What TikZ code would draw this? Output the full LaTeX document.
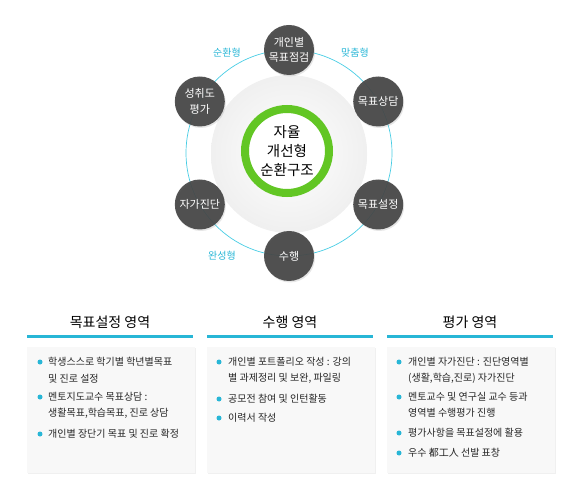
\documentclass[tikz,border=0pt]{standalone}
\usepackage{fontspec}
\setmainfont{Noto Sans CJK KR}
\usepackage{xcolor}
\usetikzlibrary{calc,shadows}
\definecolor{CianoAnillo}{RGB}{72,205,228}
\definecolor{CianoTexto}{RGB}{40,182,214}
\definecolor{GrisNodo}{RGB}{70,70,70}
\definecolor{VerdeNucleo}{RGB}{98,198,36}
\definecolor{GrisCaja}{RGB}{248,248,248}

\begin{document}
\begin{tikzpicture}[x=1pt,y=1pt,
  ciclo/.style={circle,fill=GrisNodo,fill opacity=0.93,text opacity=1,text=white,
    minimum size=50pt,inner sep=0pt,align=center,font=\fontsize{11}{15.5}\selectfont,
    drop shadow={opacity=0.2,shadow xshift=1pt,shadow yshift=-1.5pt}},
  tipo/.style={text=CianoTexto,font=\fontsize{10}{11}\selectfont},
  titulo/.style={font=\fontsize{14}{15}\selectfont},
  caja/.style={fill=GrisCaja,minimum width=168pt,minimum height=126pt,inner sep=0pt,
    drop shadow={opacity=0.12,shadow xshift=1pt,shadow yshift=-1pt}},
  punto/.style={circle,fill=CianoTexto,minimum size=5pt,inner sep=0pt},
  item/.style={anchor=north west,align=left,inner sep=0pt,text=black!85,
    font=\fontsize{10}{16.5}\selectfont}]
  \useasboundingbox (0,0) rectangle (580,498);

  % Estructura circular
  \coordinate (O) at (289,345);
  \node[circle,minimum size=156pt,inner sep=0pt,inner color=white,outer color=black!6,
    drop shadow={opacity=0.12,shadow xshift=0pt,shadow yshift=-2pt}] (fondo) at (O) {};
  \node[circle,draw=VerdeNucleo,line width=8pt,fill=white,minimum size=84pt,inner sep=0pt,
    align=center,font=\fontsize{14.5}{19}\selectfont] (nucleo) at (287,347) {자율\\개선형\\순환구조};
  \draw[CianoAnillo,line width=0.7pt] (O) circle (103pt);
  \foreach \ang/\txt/\nom in {90/개인별\\목표점검/ptn,30/목표상담/sng,-30/목표설정/stj,
      -90/수행/shg,210/자가진단/jgj,150/성취도\\평가/pgk}
    \node[ciclo] (\nom) at ($(O)+(\ang:103)$) {\txt};
  \node[tipo] (tipo1) at (227,445) {순환형};
  \node[tipo] (tipo2) at (355,445) {맞춤형};
  \node[tipo] (tipo3) at (222,242) {완성형};

  % Areas inferiores
  \foreach \x/\t/\nom in {110/목표설정 영역/a,290/수행 영역/b,470/평가 영역/c} {
    \node[titulo] (tit\nom) at (\x,176) {\t};
    \draw[CianoTexto,line width=3pt] (\x-83,162) -- (\x+83,162);
    \node[caja] (caja\nom) at (\x+1,88) {};
  }

  % Items
  \node[punto] (pa1) at (40,136) {};
  \node[item] (ia1) at (48,141) {학생스스로 학기별 학년별목표\\및 진로 설정};
  \node[punto] (pa2) at (40,101) {};
  \node[item] (ia2) at (48,106) {멘토지도교수 목표상담 :\\생활목표,학습목표, 진로 상담};
  \node[punto] (pa3) at (40,64) {};
  \node[item] (ia3) at (48,69) {개인별 장단기 목표 및 진로 확정};

  \node[punto] (pb1) at (219,136) {};
  \node[item] (ib1) at (228,141) {개인별 포트폴리오 작성 : 강의\\별 과제정리 및 보완, 파일링};
  \node[punto] (pb2) at (219,99) {};
  \node[item] (ib2) at (228,104) {공모전 참여 및 인턴활동};
  \node[punto] (pb3) at (219,80) {};
  \node[item] (ib3) at (228,85) {이력서 작성};

  \node[punto] (pc1) at (399,136) {};
  \node[item] (ic1) at (408,141) {개인별 자가진단 : 진단영역별\\(생활,학습,진로) 자가진단};
  \node[punto] (pc2) at (399,101) {};
  \node[item] (ic2) at (408,106) {멘토교수 및 연구실 교수 등과\\영역별 수행평가 진행};
  \node[punto] (pc3) at (399,65) {};
  \node[item] (ic3) at (408,70) {평가사항을 목표설정에 활용};
  \node[punto] (pc4) at (399,45) {};
  \node[item] (ic4) at (408,50) {우수 都工人 선발 표창};
\end{tikzpicture}
\end{document}
